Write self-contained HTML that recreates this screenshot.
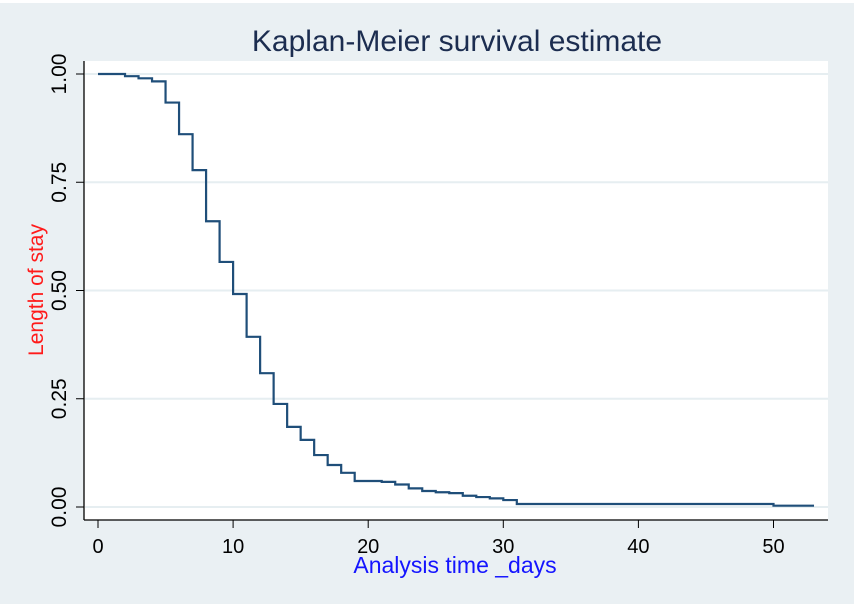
<!DOCTYPE html>
<html><head><meta charset="utf-8"><style>
body{margin:0;background:#fff}
svg{display:block;font-family:"Liberation Sans",sans-serif}
</style></head><body>
<svg width="854" height="604">
<rect x="0" y="3" width="854" height="601" fill="#eaf0f3"/>
<rect x="84" y="61" width="744" height="459" fill="#fff"/>
<text x="457" y="51" font-size="30" fill="#1c2d50" text-anchor="middle">Kaplan-Meier survival estimate</text>
<g id="grid"></g>
<line x1="84" y1="61" x2="84" y2="520" stroke="#000" stroke-width="1.3"/>
<line x1="84" y1="520" x2="828" y2="520" stroke="#000" stroke-width="1.3"/>
<g id="ticks"></g>
<path id="curve" fill="none" stroke="#1f4e79" stroke-width="2.2"/>
<text x="455" y="573" font-size="23" fill="#1414ff" text-anchor="middle">Analysis time _days</text>
<text transform="translate(43,290) rotate(-90)" font-size="21" fill="#ff1a1a" text-anchor="middle">Length of stay</text>
</svg>
<script>
const times=[0,2,3,4,5,6,7,8,9,10,11,12,13,14,15,16,17,18,19,21,22,23,24,25,26,27,28,29,30,31,50];
const survival=[1.0,0.995,0.99,0.983,0.934,0.861,0.778,0.660,0.566,0.492,0.393,0.309,0.238,0.185,0.155,0.120,0.097,0.079,0.060,0.058,0.052,0.043,0.037,0.034,0.032,0.026,0.023,0.020,0.016,0.007,0.003];
const endTime=53;
const xTicks=[0,10,20,30,40,50];
const yTicks=[0,0.25,0.5,0.75,1];
const yTickLabels=["0.00","0.25","0.50","0.75","1.00"];
const NS='http://www.w3.org/2000/svg';
const X=t=>98+t*13.51;
const Y=v=>507-v*433;
const grid=document.getElementById('grid'),ticks=document.getElementById('ticks');
yTicks.forEach((v,i)=>{
 const g=document.createElementNS(NS,'line');
 g.setAttribute('x1',85);g.setAttribute('x2',828);g.setAttribute('y1',Y(v));g.setAttribute('y2',Y(v));
 g.setAttribute('stroke','#e6eef1');g.setAttribute('stroke-width','2');
 
 
 grid.appendChild(g);
 const t=document.createElementNS(NS,'line');
 t.setAttribute('x1',76);t.setAttribute('x2',84);t.setAttribute('y1',Y(v));t.setAttribute('y2',Y(v));t.setAttribute('stroke','#000');
 
 
 ticks.appendChild(t);
 const l=document.createElementNS(NS,'text');
 l.setAttribute('transform','translate(66,'+Y(v)+') rotate(-90)');
 l.setAttribute('text-anchor','middle');l.setAttribute('font-size','21');
 l.textContent=yTickLabels[i];
 
 
 ticks.appendChild(l);
});
xTicks.forEach(v=>{
 const t=document.createElementNS(NS,'line');
 t.setAttribute('x1',X(v));t.setAttribute('x2',X(v));t.setAttribute('y1',520);t.setAttribute('y2',528);t.setAttribute('stroke','#000');
 
 
 ticks.appendChild(t);
 const l=document.createElementNS(NS,'text');
 l.setAttribute('x',X(v));l.setAttribute('y',553);l.setAttribute('text-anchor','middle');l.setAttribute('font-size','20');
 l.textContent=v;
 
 
 ticks.appendChild(l);
});
let d='M'+X(times[0])+','+Y(survival[0]);
for(let i=1;i<times.length;i++){d+=' H'+X(times[i])+' V'+Y(survival[i]);}
d+=' H'+X(endTime);
document.getElementById('curve').setAttribute('d',d);
</script>
</body></html>
